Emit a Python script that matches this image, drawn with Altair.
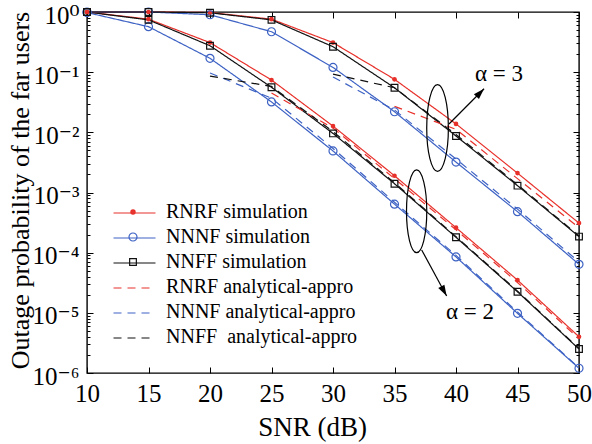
import altair as alt
import pandas as pd

# ---------------- data ----------------
snr = [10, 15, 20, 25, 30, 35, 40, 45, 50]
rnrf_sim_a2 = [1.0, 0.76, 0.31, 0.074, 0.0127, 0.0019, 2.6e-4, 3.5e-5, 4.0e-6]
nnnf_sim_a2 = [0.98, 0.57, 0.17, 0.032, 0.0049, 6.4e-4, 8.5e-5, 9.8e-6, 1.2e-6]
nnff_sim_a2 = [1.0, 0.74, 0.275, 0.056, 0.0096, 0.0014, 1.8e-4, 2.24e-5, 2.5e-6]
rnrf_sim_a3 = [1.0, 1.0, 0.98, 0.76, 0.31, 0.076, 0.0138, 0.0021, 3.1e-4]
nnnf_sim_a3 = [1.0, 1.0, 0.9, 0.47, 0.12, 0.022, 0.0032, 4.8e-4, 6.4e-5]
nnff_sim_a3 = [1.0, 1.0, 0.97, 0.74, 0.265, 0.055, 0.0087, 0.0013, 1.85e-4]

snr_rnrf_ana_a2 = [25, 30, 35, 40, 45, 50]
rnrf_ana_a2 = [0.045, 0.0118, 0.0017, 2.4e-4, 3.2e-5, 3.7e-6]
snr_nn_ana_a2 = [20, 25, 30, 35, 40, 45, 50]
nnnf_ana_a2 = [0.097, 0.037, 0.0054, 6.9e-4, 9.0e-5, 1.03e-5, 1.22e-6]
nnff_ana_a2 = [0.086, 0.058, 0.0103, 0.00145, 1.85e-4, 2.3e-5, 2.55e-6]
snr_rnrf_ana_a3 = [35, 40, 45, 50]
rnrf_ana_a3 = [0.027, 0.0112, 0.0017, 2.6e-4]
snr_nn_ana_a3 = [30, 35, 40, 45, 50]
nnnf_ana_a3 = [0.083, 0.0235, 0.0036, 5.3e-4, 7.0e-5]
nnff_ana_a3 = [0.093, 0.055, 0.0092, 0.00135, 1.9e-4]

labels = ["RNRF simulation", "NNNF simulation", "NNFF simulation",
          "RNRF analytical-appro", "NNNF analytical-appro", "NNFF\u00a0 analytical-appro"]
colors = ["#e8302a", "#3d62c4", "#111111", "#e8302a", "#3d62c4", "#111111"]

x_ticks = [10, 15, 20, 25, 30, 35, 40, 45, 50]
y_major = [1e-6, 1e-5, 1e-4, 1e-3, 1e-2, 1e-1, 1.0]
y_minor = [k * 10.0 ** d for d in range(-6, 0) for k in range(2, 10)]
sup = {0: "\u2070", 1: "\u00b9", 2: "\u00b2", 3: "\u00b3", 4: "\u2074", 5: "\u2075", 6: "\u2076"}

# annotations (data coordinates)
ell_x = [38.5, 36.8]
ell_y = [0.0118, 4.87e-4]
arrow_x0 = [39.43, 37.21]
arrow_y0 = [0.01376, 1.109e-4]
arrow_x1 = [42.28, 39.24]
arrow_y1 = [0.0531, 1.905e-5]
arrow_angle = [44, 151]
ann_text = ["\u03b1 = 3", "\u03b1 = 2"]
ann_x = [43.5, 41.14]
ann_y = [0.095, 1.045e-5]

# ---------------- tables ----------------
rows = []
def add(label, alpha, xs, ys):
    for x, y in zip(xs, ys):
        rows.append({"snr": x, "p": y, "label": label, "alpha": alpha})

add(labels[0], 2, snr, rnrf_sim_a2)
add(labels[1], 2, snr, nnnf_sim_a2)
add(labels[2], 2, snr, nnff_sim_a2)
add(labels[0], 3, snr, rnrf_sim_a3)
add(labels[1], 3, snr, nnnf_sim_a3)
add(labels[2], 3, snr, nnff_sim_a3)
add(labels[3], 2, snr_rnrf_ana_a2, rnrf_ana_a2)
add(labels[4], 2, snr_nn_ana_a2, nnnf_ana_a2)
add(labels[5], 2, snr_nn_ana_a2, nnff_ana_a2)
add(labels[3], 3, snr_rnrf_ana_a3, rnrf_ana_a3)
add(labels[4], 3, snr_nn_ana_a3, nnnf_ana_a3)
add(labels[5], 3, snr_nn_ana_a3, nnff_ana_a3)
df = pd.DataFrame(rows)
df["key"] = df["label"] + "_" + df["alpha"].astype(str)

ann_df = pd.DataFrame({"ex": ell_x, "ey": ell_y, "x0": arrow_x0, "y0": arrow_y0,
                       "x1": arrow_x1, "y1": arrow_y1, "ang": arrow_angle,
                       "t": ann_text, "tx": ann_x, "ty": ann_y})
# second (marker + text) legend uses distinct keys so that it is not merged with the line legend
labels_m = [s + "\u200b" for s in labels]
leg_df = pd.DataFrame({"mk": labels_m})

FONT = "Times New Roman, Liberation Serif, DejaVu Serif, serif"
xs = alt.Scale(domain=[10, 50], nice=False, zero=False)
ys = alt.Scale(type="log", domain=[1e-6, 1], nice=False)

label_expr = " : ".join(
    f"datum.value > {10.0 ** (-e) * 0.5} ? '10{sup[e] if e == 0 else chr(0x207B) + sup[e]}'"
    for e in range(0, 6)) + f" : '10{chr(0x207B)}{sup[6]}'"

def tick_axis(orient, values, size):
    return alt.Axis(orient=orient, values=values, tickSize=size, offset=-size,
                    domain=False, grid=False, labels=False, title=None,
                    tickColor="black", tickWidth=1)

x_bottom = alt.Axis(orient="bottom", values=x_ticks, tickSize=6, offset=-6, domain=False, grid=False,
                    labelFont=FONT, labelFontSize=25, labelColor="black", labelPadding=8,
                    labelFlush=False, labelOverlap=False, tickColor="black", tickWidth=1,
                    title="SNR (dB)", titleFont=FONT, titleFontSize=27, titleFontWeight="normal",
                    titleColor="black", titleX=225, titleY=60, titleAlign="center", titleBaseline="middle")
y_left = alt.Axis(orient="left", values=y_major, tickSize=6, offset=-6, domain=False, grid=False,
                  labelFont=FONT, labelFontSize=25, labelColor="black", labelPadding=8,
                  labelFlush=False, labelOverlap=False, labelExpr=label_expr, labelOffset=3,
                  tickColor="black", tickWidth=1,
                  title="Outage probability of the far users", titleFont=FONT, titleFontSize=26,
                  titleFontWeight="normal", titleColor="black", titleX=-73, titleY=178,
                  titleAlign="center", titleBaseline="middle", titleAngle=270)

# line legend (symbols only, its labels are hidden)
legA = alt.Legend(orient="none", legendX=25.5, legendY=179, title=None, padding=0,
                  labelFont=FONT, labelFontSize=1, labelOpacity=0, labelOffset=10,
                  symbolSize=1764, symbolStrokeWidth=1.2, symbolType="stroke", rowPadding=0,
                  labelLimit=400)
# marker legend with the visible labels
legB = alt.Legend(orient="none", legendX=36, legendY=190, title=None, padding=0, columns=1,
                  labelFont=FONT, labelFontSize=20, labelColor="black",
                  labelOffset=23, rowPadding=5, labelLimit=400)

lines = alt.Chart(df).mark_line(strokeWidth=1.2).encode(
    x=alt.X("snr:Q", scale=xs, axis=x_bottom),
    y=alt.Y("p:Q", scale=ys, axis=y_left),
    color=alt.Color("label:N", scale=alt.Scale(domain=labels, range=colors), legend=legA),
    strokeDash=alt.StrokeDash("label:N", scale=alt.Scale(domain=labels,
                              range=[[1, 0], [1, 0], [1, 0], [8, 6], [8, 6], [8, 6]]), legend=legA),
    detail="key:N",
)

rnrf_pts = alt.Chart(df).transform_filter(alt.datum.label == labels[0]).mark_point(
    shape="circle", filled=True, size=22, color=colors[0], opacity=1).encode(
    x=alt.X("snr:Q", scale=xs, axis=tick_axis("top", x_ticks, 6)),
    y=alt.Y("p:Q", scale=ys, axis=tick_axis("right", y_major, 6)),
)
nnnf_pts = alt.Chart(df).transform_filter(alt.datum.label == labels[1]).mark_point(
    shape="circle", filled=False, size=64, color=colors[1], strokeWidth=1.2, opacity=1).encode(
    x=alt.X("snr:Q", scale=xs, axis=None),
    y=alt.Y("p:Q", scale=ys, axis=tick_axis("left", y_minor, 3)),
)
nnff_pts = alt.Chart(df).transform_filter(alt.datum.label == labels[2]).mark_point(
    shape="square", filled=False, size=45, color=colors[2], strokeWidth=1.2, opacity=1).encode(
    x=alt.X("snr:Q", scale=xs, axis=None),
    y=alt.Y("p:Q", scale=ys, axis=tick_axis("right", y_minor, 3)),
)

ann = alt.Chart(ann_df)
ell0 = ann.transform_filter(alt.datum.t == ann_text[0]).mark_point(
    shape="M0,-1A0.25,1 0 1,1 0,1A0.25,1 0 1,1 0,-1Z", size=7500, filled=False,
    color="black", strokeWidth=1.2, opacity=1).encode(
    x=alt.X("ex:Q", scale=xs, axis=None), y=alt.Y("ey:Q", scale=ys, axis=None))
ell1 = ann.transform_filter(alt.datum.t == ann_text[1]).mark_point(
    shape="M0,-1A0.245,1 0 1,1 0,1A0.245,1 0 1,1 0,-1Z", size=6840, filled=False,
    color="black", strokeWidth=1.2, opacity=1).encode(
    x=alt.X("ex:Q", scale=xs, axis=None), y=alt.Y("ey:Q", scale=ys, axis=None))
arrows = ann.mark_rule(color="black", strokeWidth=1.2).encode(
    x=alt.X("x0:Q", scale=xs, axis=None), y=alt.Y("y0:Q", scale=ys, axis=None),
    x2="x1:Q", y2="y1:Q")
heads = ann.mark_point(shape="M0,0L-0.32,1L0.32,1Z", size=484, filled=True,
                       color="black", opacity=1).encode(
    x=alt.X("x1:Q", scale=xs, axis=None), y=alt.Y("y1:Q", scale=ys, axis=None),
    angle=alt.Angle("ang:Q", scale=None))
texts = ann.mark_text(font=FONT, fontSize=23, color="black", align="center", baseline="middle").encode(
    x=alt.X("tx:Q", scale=xs, axis=None), y=alt.Y("ty:Q", scale=ys, axis=None), text="t:N")

# marker legend overlaid on the line legend (its marks are filtered out)
legm = alt.Chart(leg_df).transform_filter("datum.mk == 'zzz'").mark_point(filled=False).encode(
    stroke=alt.Stroke("mk:N", scale=alt.Scale(domain=labels_m, range=colors), legend=legB),
    shape=alt.Shape("mk:N", scale=alt.Scale(domain=labels_m,
                    range=["circle", "circle", "square", "circle", "circle", "circle"]), legend=legB),
    size=alt.Size("mk:N", scale=alt.Scale(type="ordinal", domain=labels_m,
                  range=[6, 64, 45, 0, 0, 0]), legend=legB),
    strokeWidth=alt.StrokeWidth("mk:N", scale=alt.Scale(type="ordinal", domain=labels_m,
                                range=[3, 1.2, 1.2, 0, 0, 0]), legend=legB),
    opacity=alt.Opacity("mk:N", scale=alt.Scale(type="ordinal", domain=labels_m,
                        range=[1, 1, 1, 0, 0, 0]), legend=legB),
)

chart = alt.layer(lines, rnrf_pts, nnnf_pts, nnff_pts, ell0, ell1, arrows, heads, texts, legm).resolve_axis(
    x="independent", y="independent"
).properties(
    width=492, height=361,
    autosize=alt.AutoSizeParams(type="none"),
    padding={"left": 87, "top": 12, "right": 13, "bottom": 71},
    background="white",
).configure_view(stroke="black", strokeWidth=1.4)

chart.save("out.html", embed_options={"renderer": "svg", "actions": False})
